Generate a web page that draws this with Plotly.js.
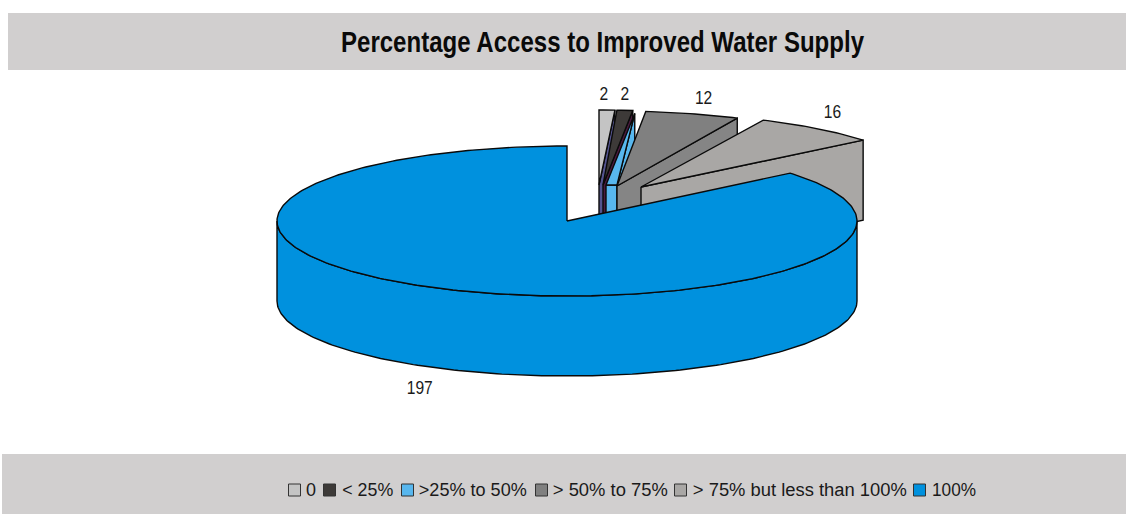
<!DOCTYPE html>
<html>
<head>
<meta charset="utf-8">
<script src="https://cdn.plot.ly/plotly-3.0.1.min.js"></script>
<style>html,body{margin:0;padding:0;background:#fff}</style>
</head>
<body>
<div id="chart" style="width:1126px;height:514px"></div>
<script>
// Survey counts per access band
const categories = ["0", "< 25%", ">25% to 50%", "> 50% to 75%", "> 75% but less than 100%", "100%"];
const counts = [2, 2, 0, 12, 16, 197];

// Slice styling
const topColors  = ["#c4c4c4", "#3d3a38", "#58b7ee", "#808080", "#a9a7a5", "#0091de"];
const sideColors = ["#54548f", "#4a1a3e", "#58b7ee", "#858585", "#a9a7a5", "#0091de"];
const pullX = [32, 34, 36, 47, 73, 0];
const pullY = [-36, -36, -33, -35, -33, 0];
const apexLeft  = [[0, 0], [2, 0], [3, -3], [3, 0], [1, -1], [0, 0]];
const apexRight = [[0, 0], [2, 0], [14, -3], [3, 0], [1, -1], [0, 0]];
const labelDX = [-3, 0, 0, 11, 15, -24];
const labelDY = [-15, -15, 0, -15, -15, 20];

// Legend placement
const swatchX = [294.5, 329.5, 407.5, 541.5, 680.5, 919.5];
const legendTextX = [306, 342, 419, 553, 693, 932];
const legendTextWidth = [10, 51, 108, 115, 214, 44];
const legendY = 490;

// Tilted disc geometry, in axis units
const cx = 567, cy = 221, rx = 290, ry = 75, depth = 80;
const total = counts.reduce((a, b) => a + b, 0);

function rim(deg, h) {
  const r = deg * Math.PI / 180;
  return [cx + rx * Math.sin(r), cy - ry * Math.cos(r) + (h || 0)];
}
function poly(points, fill, name) {
  return {
    type: "scatter", mode: "lines", name: name, fill: "toself", fillcolor: fill,
    x: points.map(p => p[0]), y: points.map(p => p[1]),
    line: {color: "#0a0a0a", width: 1.4}, hoverinfo: "skip", showlegend: false
  };
}

const traces = [];
const labelX = [], labelY = [], labelText = [];
let start = 0;
counts.forEach((value, i) => {
  const sweep = value / total * 360, end = start + sweep;
  const ox = pullX[i], oy = pullY[i];
  const arc = [];
  const steps = Math.max(1, Math.ceil(sweep));
  for (let k = 0; k <= steps; k++) {
    const p = rim(start + sweep * k / steps);
    arc.push([p[0] + ox, p[1] + oy]);
  }
  const left  = [cx + ox + apexLeft[i][0],  cy + oy + apexLeft[i][1]];
  const right = [cx + ox + apexRight[i][0], cy + oy + apexRight[i][1]];
  const tip = arc[arc.length - 1];

  if (sweep < 180) {
    // Cut face on the clockwise side of a pulled slice
    traces.push(poly([right, tip, [tip[0], tip[1] + depth], [right[0], right[1] + depth], right],
                     sideColors[i], categories[i] + " side"));
    if (value === 0) {
      // An empty band still shows its narrow face at the hub
      traces.push(poly([left, [left[0], left[1] + depth], [right[0], right[1] + depth], right, left],
                       sideColors[i], categories[i] + " hub"));
    }
  } else {
    // Front rim of the large slice, from the right extreme round to the left
    const wall = [];
    for (let d = 90; d <= 270; d += 1) wall.push(rim(d));
    for (let d = 270; d >= 90; d -= 1) wall.push(rim(d, depth));
    wall.push(wall[0]);
    traces.push(poly(wall, sideColors[i], categories[i] + " rim"));
  }
  traces.push(poly([left].concat(arc, [right], [left]), topColors[i], categories[i]));

  if (value > 0) {
    const m = rim(start + sweep / 2, sweep < 180 ? 0 : depth);
    labelX.push(m[0] + ox + labelDX[i]);
    labelY.push(m[1] + oy + labelDY[i]);
    labelText.push(String(value));
  }
  start = end;
});

// Value labels
traces.push({
  type: "scatter", mode: "text", x: labelX, y: labelY, text: labelText,
  textposition: "middle center", hoverinfo: "skip", showlegend: false,
  textfont: {family: "Liberation Sans", size: 19, color: "#1a1a1a"}
});

// Legend swatches
traces.push({
  type: "scatter", mode: "markers", x: swatchX, y: categories.map(() => legendY),
  hoverinfo: "skip", showlegend: false,
  marker: {symbol: "square", size: 12, color: topColors, line: {color: "#333333", width: 1}}
});

const layout = {
  width: 1126, height: 514,
  margin: {l: 0, r: 0, t: 0, b: 0},
  paper_bgcolor: "#ffffff", plot_bgcolor: "#ffffff",
  showlegend: false,
  title: {
    text: "<b>Percentage Access to Improved Water Supply</b>",
    x: 602.5 / 1126, xanchor: "center", y: 1 - 42 / 514, yanchor: "middle",
    font: {family: "Liberation Sans", size: 29, color: "#0a0a0a"}
  },
  xaxis: {range: [0, 1126], visible: false, fixedrange: true},
  yaxis: {range: [514, 0], visible: false, fixedrange: true},
  shapes: [
    {type: "rect", xref: "x", yref: "y", x0: 8, x1: 1126, y0: 13, y1: 70, fillcolor: "#d1cfcf", line: {width: 0}, layer: "below"},
    {type: "rect", xref: "x", yref: "y", x0: 2, x1: 1126, y0: 454, y1: 514, fillcolor: "#d1cfcf", line: {width: 0}, layer: "below"}
  ],
  annotations: categories.map((c, i) => ({
    xref: "x", yref: "y", x: legendTextX[i] + legendTextWidth[i] / 2, y: legendY, text: c, showarrow: false,
    xanchor: "center", yanchor: "middle",
    font: {family: "Liberation Sans, Arial", size: 18, color: "#1a1a1a"}
  }))
};

// Fit text runs to a given width by adjusting the glyphs
function condense(selector, widthOf) {
  document.querySelectorAll(selector).forEach((t, i) => {
    t.setAttribute("textLength", widthOf(t.getComputedTextLength(), i));
    t.setAttribute("lengthAdjust", "spacingAndGlyphs");
  });
}

Plotly.newPlot("chart", traces, layout, {displayModeBar: false, staticPlot: true}).then(() => {
  condense(".gtitle", () => 523);
  condense(".textpoint text", w => w * 0.82);
  condense(".annotation-text", (w, i) => legendTextWidth[i]);
});
</script>
</body>
</html>
